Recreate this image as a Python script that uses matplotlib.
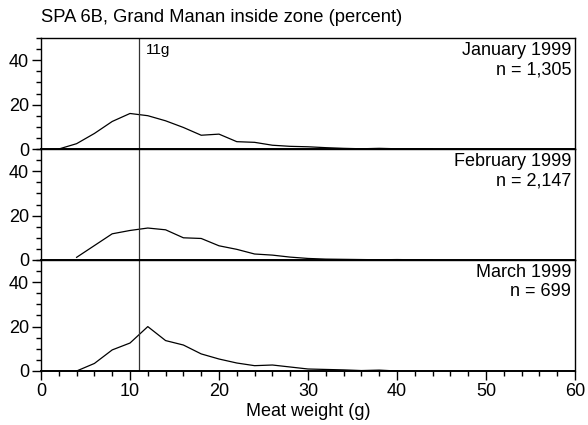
import matplotlib.pyplot as plt
from matplotlib.ticker import MultipleLocator

plt.rcParams['font.family'] = ['Liberation Sans', 'DejaVu Sans']

# meat weight classes (g) and percent per class
jan_weight = [2, 4, 6, 8, 10, 12, 14, 16, 18, 20, 22, 24, 26, 28, 30, 32, 34, 36, 38, 40, 42, 44]
jan_pct = [0, 2.4, 7, 12.4, 16, 15, 12.7, 9.7, 6.2, 6.7, 3.3, 3.0, 1.7, 1.2, 1.0,
           0.6, 0.3, 0.1, 0.3, 0.1, 0.1, 0]

feb_weight = [4, 6, 8, 10, 12, 14, 16, 18, 20, 22, 24, 26, 28, 30, 32, 34, 36, 38, 40, 42, 44]
feb_pct = [1.2, 6.5, 11.8, 13.3, 14.4, 13.6, 10, 9.7, 6.4, 4.8, 2.7, 2.2, 1.3, 0.7,
           0.4, 0.3, 0.2, 0.1, 0.2, 0.1, 0]

mar_weight = [4, 6, 8, 10, 12, 14, 16, 18, 20, 22, 24, 26, 28, 30, 32, 34, 36, 38, 40]
mar_pct = [0, 3.4, 9.5, 12.6, 20, 13.7, 11.7, 7.7, 5.4, 3.6, 2.4, 2.7, 1.8, 0.9,
           0.7, 0.5, 0.2, 0.4, 0]

months = ["January 1999", "February 1999", "March 1999"]
counts = ["n = 1,305", "n = 2,147", "n = 699"]
series = [(jan_weight, jan_pct), (feb_weight, feb_pct), (mar_weight, mar_pct)]

fig = plt.figure(figsize=(5.88, 4.25), dpi=100)
left, right = 41 / 588, 575 / 588
top, bottom = 1 - 38 / 425, 1 - 371 / 425
h = (top - bottom) / 3
fs = 13

for i, ((x, y), month, n) in enumerate(zip(series, months, counts)):
    ax = fig.add_axes([left, top - (i + 1) * h, right - left, h])
    ax.plot(x, y, color="black", linewidth=0.9)
    ax.axvline(11, color="#333333", linewidth=0.9)
    ax.set_xlim(0, 60)
    ax.set_ylim(0, 50)
    ax.set_yticks([0, 20, 40])
    ax.yaxis.set_minor_locator(MultipleLocator(5))
    ax.xaxis.set_major_locator(MultipleLocator(10))
    ax.xaxis.set_minor_locator(MultipleLocator(2))
    ax.tick_params(axis="both", which="major", length=6.5, width=1, labelsize=fs,
                   direction="out", pad=2)
    ax.tick_params(axis="both", which="minor", length=3.5, width=1, direction="out")
    for s in ax.spines.values():
        s.set_linewidth(1.0)
    ax.spines["bottom"].set_linewidth(1.4)
    if i < 2:
        ax.tick_params(axis="x", which="both", bottom=False, labelbottom=False)
    else:
        ax.set_xlabel("Meat weight (g)", fontsize=fs, labelpad=2)
    ax.text(0.993, 0.89, month, transform=ax.transAxes, ha="right", va="center", fontsize=fs)
    ax.text(0.993, 0.715, n, transform=ax.transAxes, ha="right", va="center", fontsize=fs)
    if i == 0:
        ax.text(11.8, 44.5, "11g", ha="left", va="center", fontsize=11)

fig.text(41 / 588, 1 - 18 / 425, "SPA 6B, Grand Manan inside zone (percent)",
         ha="left", va="center", fontsize=13.2)

fig.savefig("out.png", dpi=100)
